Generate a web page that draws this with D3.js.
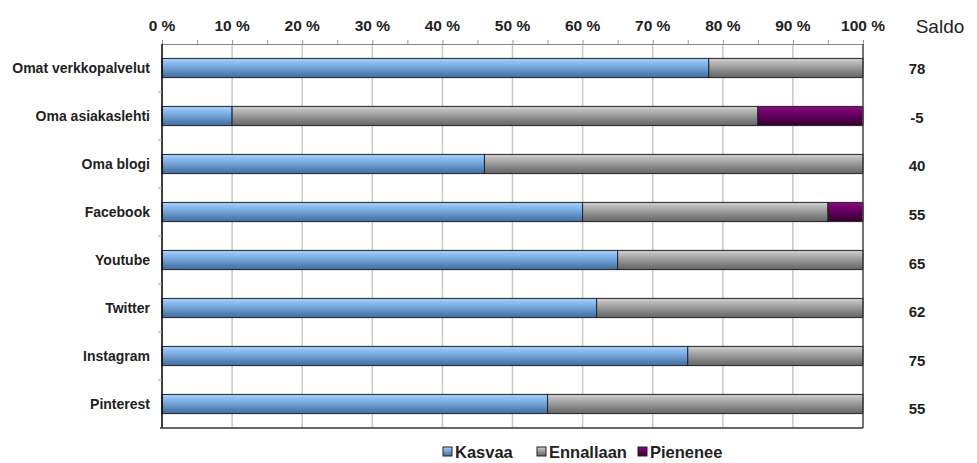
<!DOCTYPE html>
<html>
<head>
<meta charset="utf-8">
<script src="https://cdn.jsdelivr.net/npm/d3@7"></script>
<style>
  body { margin: 0; background: #fff; }
  text { font-family: "Liberation Sans", Arial, sans-serif; }
</style>
</head>
<body>
<svg id="chart"></svg>
<script>
const width = 977;
const height = 463;

const categories = [
  "Omat verkkopalvelut",
  "Oma asiakaslehti",
  "Oma blogi",
  "Facebook",
  "Youtube",
  "Twitter",
  "Instagram",
  "Pinterest",
];
const kasvaa = [78, 10, 46, 60, 65, 62, 75, 55];
const ennallaan = [22, 75, 54, 35, 35, 38, 25, 45];
const pienenee = [0, 15, 0, 5, 0, 0, 0, 0];
const saldo = ["78", "-5", "40", "55", "65", "62", "75", "55"];
const seriesNames = ["Kasvaa", "Ennallaan", "Pienenee"];
const tickValues = [0, 10, 20, 30, 40, 50, 60, 70, 80, 90, 100];

const margin = { top: 44, left: 162, right: 114, bottom: 35 };

const svg = d3.select("#chart").attr("width", width).attr("height", height);

// gradients for the bars
const defs = svg.append("defs");
const gradStops = [
  ["#a6d0fa", "#7fb0e6", "#3f6c9c"],
  ["#d2d2d2", "#a8a8a8", "#626262"],
  ["#8a0a80", "#6e0066", "#33002f"],
];
gradStops.forEach((s, i) => {
  const g = defs
    .append("linearGradient")
    .attr("id", "grad" + i)
    .attr("x1", 0)
    .attr("y1", 0)
    .attr("x2", 0)
    .attr("y2", 1);
  g.append("stop").attr("offset", "0%").attr("stop-color", s[0]);
  g.append("stop").attr("offset", "35%").attr("stop-color", s[1]);
  g.append("stop").attr("offset", "100%").attr("stop-color", s[2]);
});

const x = d3
  .scaleLinear()
  .domain([0, 100])
  .range([margin.left, width - margin.right]);

const y = d3
  .scaleBand()
  .domain(categories)
  .range([margin.top, height - margin.bottom])
  .paddingInner(0.6)
  .paddingOuter(0.3);

// saldo column has its own slightly different spacing
const ySaldo = d3.scalePoint().domain(categories).range([69, 409]);

const step = y.step();
const plotTop = margin.top;
const plotBottom = height - margin.bottom;

// gridlines
svg
  .append("g")
  .selectAll("line")
  .data(tickValues.slice(1, -1))
  .enter()
  .append("line")
  .attr("x1", (d) => x(d))
  .attr("x2", (d) => x(d))
  .attr("y1", plotTop)
  .attr("y2", plotBottom)
  .attr("stroke", "#c8c8c8")
  .attr("stroke-width", 1.5);

// top axis
const xAxis = svg
  .append("g")
  .attr("transform", "translate(0," + plotTop + ")")
  .call(
    d3
      .axisTop(x)
      .tickValues(d3.range(0, 101, 5))
      .tickSize(4)
      .tickFormat("")
  );
xAxis.select(".domain").attr("stroke", "#888");
xAxis.selectAll(".tick line").attr("stroke", "#999");

svg
  .append("g")
  .selectAll("text")
  .data(tickValues)
  .enter()
  .append("text")
  .attr("x", (d) => x(d))
  .attr("y", 31)
  .attr("text-anchor", "middle")
  .attr("font-size", 15.5)
  .attr("font-weight", "bold")
  .attr("fill", "#222")
  .text((d) => d + " %");

// stacked bars
const rows = categories.map((c, i) => ({
  cat: c,
  Kasvaa: kasvaa[i],
  Ennallaan: ennallaan[i],
  Pienenee: pienenee[i],
}));
const stacked = d3.stack().keys(seriesNames)(rows);

stacked.forEach((layer, li) => {
  svg
    .append("g")
    .selectAll("rect")
    .data(layer.filter((d) => d[1] - d[0] > 0))
    .enter()
    .append("rect")
    .attr("x", (d) => x(d[0]))
    .attr("width", (d) => x(d[1]) - x(d[0]))
    .attr("y", (d) => y(d.data.cat))
    .attr("height", y.bandwidth())
    .attr("fill", "url(#grad" + li + ")")
    .attr("stroke", "#222")
    .attr("stroke-width", 1);
});

// frame
svg
  .append("line")
  .attr("x1", x(0))
  .attr("x2", x(0))
  .attr("y1", plotTop)
  .attr("y2", plotBottom)
  .attr("stroke", "#000")
  .attr("stroke-width", 1.5);
svg
  .append("line")
  .attr("x1", x(100))
  .attr("x2", x(100))
  .attr("y1", plotTop)
  .attr("y2", plotBottom)
  .attr("stroke", "#444")
  .attr("stroke-width", 1.5);
svg
  .append("line")
  .attr("x1", x(0) - 2)
  .attr("x2", x(100))
  .attr("y1", plotBottom)
  .attr("y2", plotBottom)
  .attr("stroke", "#333")
  .attr("stroke-width", 1.5);

// left ticks between categories
svg
  .append("g")
  .selectAll("line")
  .data(categories.slice(1))
  .enter()
  .append("line")
  .attr("x1", x(0) - 4)
  .attr("x2", x(0))
  .attr("y1", (d) => y(d) - (step - y.bandwidth()) / 2)
  .attr("y2", (d) => y(d) - (step - y.bandwidth()) / 2)
  .attr("stroke", "#999");

// category labels
svg
  .append("g")
  .selectAll("text")
  .data(categories)
  .enter()
  .append("text")
  .attr("x", x(0) - 12)
  .attr("y", (d) => y(d) + y.bandwidth() / 2)
  .attr("dy", "0.35em")
  .attr("text-anchor", "end")
  .attr("font-size", 14)
  .attr("font-weight", "bold")
  .attr("fill", "#222")
  .text((d) => d);

// saldo column
svg
  .append("text")
  .attr("x", 940)
  .attr("y", 33)
  .attr("text-anchor", "middle")
  .attr("font-size", 19)
  .attr("fill", "#222")
  .text("Saldo");

svg
  .append("g")
  .selectAll("text")
  .data(categories)
  .enter()
  .append("text")
  .attr("x", 917)
  .attr("y", (d) => ySaldo(d))
  .attr("dy", "0.35em")
  .attr("text-anchor", "middle")
  .attr("font-size", 15)
  .attr("font-weight", "bold")
  .attr("fill", "#222")
  .text((d, i) => saldo[i]);

// legend
const legendX = [443, 537, 638];
const legend = svg
  .append("g")
  .selectAll("g")
  .data(seriesNames)
  .enter()
  .append("g")
  .attr("transform", (d, i) => "translate(" + legendX[i] + ",447)");

legend
  .append("rect")
  .attr("width", 9)
  .attr("height", 9)
  .attr("fill", (d, i) => "url(#grad" + i + ")")
  .attr("stroke", "#222");

legend
  .append("text")
  .attr("x", 12)
  .attr("y", 10.5)
  .attr("font-size", 16.5)
  .attr("font-weight", "bold")
  .attr("fill", "#222")
  .text((d) => d);
</script>
</body>
</html>
